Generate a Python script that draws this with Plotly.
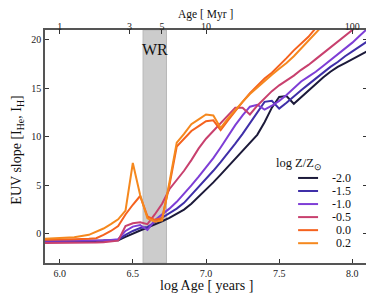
import numpy as np
import plotly.graph_objects as go

log_age = [5.9, 6.0, 6.1, 6.2, 6.25, 6.3, 6.35, 6.4, 6.45, 6.5, 6.55, 6.6, 6.65, 6.7, 6.75,
           6.8, 6.85, 6.9, 6.95, 7.0, 7.05, 7.1, 7.15, 7.2, 7.25, 7.3, 7.35, 7.4, 7.45,
           7.5, 7.55, 7.6, 7.65, 7.7, 7.75, 7.8, 7.85, 7.9, 7.95, 8.0, 8.05, 8.1]

z_labels = ["-2.0", "-1.5", "-1.0", "-0.5", "0.0", "0.2"]
colors = ["#1c1a3a", "#3f2fa8", "#7e3ed6", "#c8406e", "#f5621e", "#f5881e"]

slope_m20 = [-0.8, -0.8, -0.78, -0.75, -0.74, -0.72, -0.7, -0.65, -0.3, 0.05, 0.35, 0.65, 0.95, 1.3, 1.65,
             2.05, 2.5, 3.1, 3.8, 4.5, 5.3, 6.1, 6.9, 7.7, 8.5, 9.3, 10.2, 11.5, 13.0,
             14.1, 14.2, 13.4, 14.1, 14.8, 15.5, 16.1, 16.7, 17.2, 17.6, 18.0, 18.4, 18.8]
slope_m15 = [-0.75, -0.75, -0.72, -0.7, -0.69, -0.68, -0.65, -0.6, -0.1, 0.3, 0.6, 0.7, 1.2, 1.65, 2.1,
             2.6, 3.2, 4.0, 4.8, 5.6, 6.5, 7.4, 8.3, 9.3, 10.3, 11.4, 12.5, 13.6, 13.7,
             12.9, 13.5, 14.2, 14.8, 15.4, 16.0, 16.6, 17.2, 17.7, 18.3, 18.8, 19.3, 19.8]
slope_m10 = [-0.7, -0.7, -0.7, -0.68, -0.67, -0.65, -0.62, -0.55, 0.3, 0.75, 0.9, 0.4, 1.4, 2.0, 2.6,
             3.3, 4.1, 5.0, 5.9, 6.8, 7.8, 8.9, 10.1, 11.2, 12.2, 13.1, 13.3, 12.8, 13.2,
             13.7, 14.3, 15.0, 15.7, 16.2, 16.7, 17.3, 17.9, 18.5, 19.1, 19.7, 20.4, 21.1]
slope_m05 = [-0.95, -0.95, -0.92, -0.9, -0.88, -0.85, -0.8, -0.7, 0.8, 1.1, 1.2, 1.0, 2.0, 3.1, 4.6,
             5.5, 6.5, 7.6, 8.8, 9.8, 10.6, 11.4, 12.3, 13.0, 13.0, 12.3, 13.2, 14.0, 14.7,
             15.3, 15.8, 16.3, 16.9, 17.4, 18.0, 18.6, 19.2, 19.8, 20.4, 21.0, 21.6, 22.2]
slope_p00 = [-0.6, -0.6, -0.55, -0.5, -0.45, -0.1, 0.3, 0.8, 2.0, 3.0, 3.9, 1.8, 1.45, 1.6, 5.0,
             9.0, 9.8, 10.6, 11.1, 11.6, 11.7, 10.7, 11.7, 12.7, 13.6, 14.5, 15.3, 16.0, 16.6,
             17.3, 18.1, 18.9, 19.6, 20.3, 21.2, 22.0, 22.8, 23.6, 24.4, 25.2, 26.0, 26.8]
slope_p02 = [-0.5, -0.45, -0.35, -0.1, 0.2, 0.55, 1.0, 1.5, 2.4, 7.3, 4.0, 1.6, 1.25, 1.4, 5.3,
             9.4, 10.3, 11.3, 11.8, 12.3, 12.2, 10.9, 11.9, 12.8, 13.6, 14.4, 15.1, 15.8, 16.4,
             17.0, 17.6, 18.3, 19.1, 19.9, 20.7, 21.5, 22.3, 23.1, 23.9, 24.7, 25.5, 26.3]
series = [slope_m20, slope_m15, slope_m10, slope_m05, slope_p00, slope_p02]

wr_band = [6.57, 6.73]
top_ticks_myr = [1, 3, 5, 10, 100]

serif = "Liberation Serif"
fig = go.Figure()

for name, ys, c in zip(z_labels, series, colors):
    fig.add_trace(go.Scatter(x=log_age, y=ys, mode="lines", name=name,
                             line=dict(color=c, width=2), showlegend=False))

# invisible trace to anchor top axis
fig.add_trace(go.Scatter(x=wr_band, y=[0, 0], xaxis="x2", mode="lines",
                         line=dict(width=0), opacity=0, showlegend=False, hoverinfo="skip"))

fig.add_shape(type="rect", xref="x", yref="paper", x0=wr_band[0], x1=wr_band[1], y0=0, y1=1,
              fillcolor="#cccccc", line=dict(color="#b8b8b8", width=1), layer="below")
fig.add_annotation(x=sum(wr_band) / 2, y=19.0, xref="x", yref="y", text="WR", showarrow=False,
                   font=dict(family=serif, size=16, color="#111"))

# axis titles
fig.add_annotation(xref="paper", yref="paper", x=0.5, y=-0.098, yanchor="middle",
                   text="log Age [ years ]", showarrow=False,
                   font=dict(family=serif, size=14, color="#111"))
fig.add_annotation(xref="paper", yref="paper", x=0.497, y=1.066, yanchor="middle",
                   text="Age [ Myr ]", showarrow=False,
                   font=dict(family=serif, size=11.5, color="#111"))
fig.add_annotation(xref="paper", yref="paper", x=-0.085, y=0.485, yanchor="middle", xanchor="center",
                   textangle=-90, text="EUV slope [I<sub>He</sub>, I<sub>H</sub>]", showarrow=False,
                   font=dict(family=serif, size=14, color="#111"))

# manual legend
leg_x0, leg_x1 = 0.786, 0.848
fig.add_annotation(xref="paper", yref="paper", x=0.866, y=0.425, yanchor="middle",
                   text="log Z/Z<sub>⊙</sub>", showarrow=False,
                   font=dict(family=serif, size=12.5, color="#111"))
for i, (name, c) in enumerate(zip(z_labels, colors)):
    yy = 0.365 - i * 0.056
    fig.add_shape(type="line", xref="paper", yref="paper", x0=leg_x0, x1=leg_x1, y0=yy, y1=yy,
                  line=dict(color=c, width=2))
    fig.add_annotation(xref="paper", yref="paper", x=0.957, y=yy, text=name, xanchor="right",
                       yanchor="middle", showarrow=False,
                       font=dict(family=serif, size=12, color="#111"))

axis_common = dict(showgrid=False, zeroline=False, ticks="inside", ticklen=4, tickwidth=1,
                   tickcolor="#333", showline=True, linecolor="#555", linewidth=1.5,
                   tickfont=dict(family=serif, size=10, color="#222"), automargin=False)

# page body has an 8px margin, so the figure is sized to fit the 374x299 window
fig.update_layout(
    width=366, height=291,
    margin=dict(l=37, r=7, t=22, b=36),
    paper_bgcolor="white", plot_bgcolor="white",
    xaxis=dict(range=[5.9, 8.1], tickvals=[6.0, 6.5, 7.0, 7.5, 8.0],
               ticktext=["6.0", "6.5", "7.0", "7.5", "8.0"], **axis_common),
    xaxis2=dict(range=[5.9, 8.1], overlaying="x", side="top", ticklabelstandoff=-6,
                tickvals=[np.log10(v * 1e6) for v in top_ticks_myr],
                ticktext=[str(v) for v in top_ticks_myr], **axis_common),
    yaxis=dict(range=[-3, 21], tickvals=[0, 5, 10, 15, 20], mirror="ticks", **axis_common),
)

fig.write_html("out.html")
